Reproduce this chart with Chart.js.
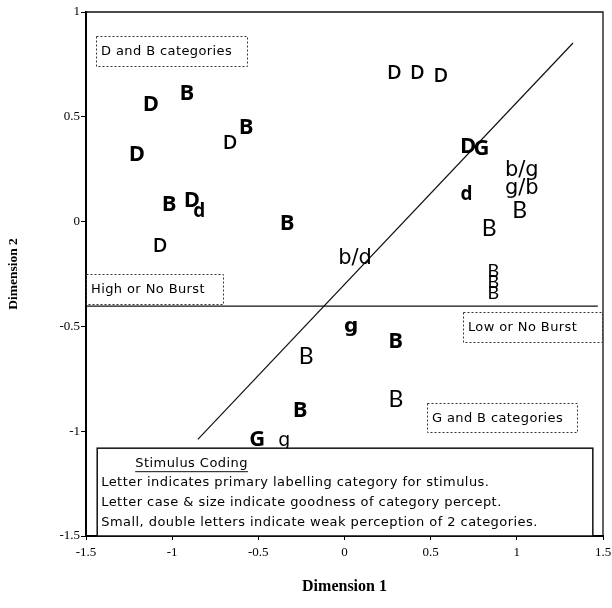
<!DOCTYPE html>
<html>
<head>
<meta charset="utf-8">
<script src="https://cdn.jsdelivr.net/npm/chart.js@4/dist/chart.umd.min.js"></script>
<style>
  html, body { margin: 0; padding: 0; background: #fff; }
  #wrap { width: 612px; height: 608px; }
</style>
</head>
<body>
<div id="wrap"><canvas id="c" width="612" height="608"></canvas></div>
<script>
// Stimulus positions in the two-dimensional space, with the label plotted for each stimulus
const labels = ['D','B','D','D','B','B','D','d','B','D',
                'D','D','D','D','G','b/g','d','g/b','B','B',
                'b/d','B','B','B','g','B','B','B','B','G','g'];
const dim1 = [-1.123,-0.915,-1.205,-0.664,-0.571,-1.017,-0.886,-0.843,-0.333,-1.070,
               0.289, 0.422, 0.559, 0.718, 0.795, 1.029, 0.708, 1.029, 1.017, 0.839,
               0.061, 0.863, 0.863, 0.863, 0.038, 0.297,-0.223,-0.258, 0.299,-0.506,-0.349];
const dim2 = [ 0.562, 0.615, 0.323, 0.382, 0.454, 0.085, 0.104, 0.056,-0.006,-0.111,
               0.712, 0.715, 0.701, 0.363, 0.352, 0.247, 0.138, 0.161, 0.056,-0.029,
              -0.167,-0.235,-0.287,-0.337,-0.509,-0.565,-0.641,-0.896,-0.843,-1.034,-1.055];
// Typeface key for each label (goodness of the category percept)
const letterStyle = ['H','H','H','M','H','H','H','d','H','M',
                     'M','M','M','H','H','R','d','R','L','L',
                     'R','S','S','S','g','H','L','H','L','H','q'];

// Burst boundary and category boundary lines
const burstX = [-1.5, 1.47];
const burstY = [-0.403, -0.403];
const boundaryX = [-0.851, 1.326];
const boundaryY = [-1.039, 0.852];

const xTicks = [-1.5, -1, -0.5, 0, 0.5, 1, 1.5];
const yTicks = [-1.5, -1, -0.5, 0, 0.5, 1];

const fonts = {
  H: '700 22px "Open Sans"',
  M: '600 20px "Open Sans"',
  R: '400 21px "DejaVu Sans"',
  L: '400 23px Lato',
  S: '400 18px Lato',
  d: '700 19px "Open Sans"',
  g: '700 20px "DejaVu Sans"',
  q: '400 19px "DejaVu Sans"'
};

// Region captions (dotted boxes) and the coding key, placed in axis units
const regionBoxes = [
  { x0: -1.442, x1: -0.563, y0: 0.887, y1: 0.744, text: 'D and B categories' },
  { x0: -1.5,   x1: -0.704, y0: -0.250, y1: -0.393, text: 'High or No Burst' },
  { x0: 0.687,  x1: 1.493,  y0: -0.431, y1: -0.575, text: 'Low or No Burst' },
  { x0: 0.478,  x1: 1.348,  y0: -0.866, y1: -1.005, text: 'G and B categories' }
];
const keyBox = { x0: -1.435, x1: 1.441, y0: -1.081, y1: -1.5 };
const keyTitle = 'Stimulus Coding';
const keyLines = [
  'Letter indicates primary labelling category for stimulus.',
  'Letter case & size indicate goodness of category percept.',
  'Small, double letters indicate weak perception of 2 categories.'
];

const toPts = (xs, ys) => xs.map((x, i) => ({ x, y: ys[i] }));

const decorations = {
  id: 'decorations',
  afterDatasetsDraw(chart) {
    const ctx = chart.ctx;
    const xs = chart.scales.x, ys = chart.scales.y;
    const area = chart.chartArea;
    ctx.save();

    // top and right frame
    ctx.strokeStyle = '#111';
    ctx.lineWidth = 1.3;
    ctx.beginPath();
    ctx.moveTo(area.left, area.top);
    ctx.lineTo(area.right, area.top);
    ctx.lineTo(area.right, area.bottom);
    ctx.stroke();

    // stimulus letters, each centred on its own ink box
    const meta = chart.getDatasetMeta(2);
    ctx.fillStyle = '#000';
    ctx.textAlign = 'center';
    ctx.textBaseline = 'alphabetic';
    meta.data.forEach((pt, i) => {
      ctx.font = fonts[letterStyle[i]];
      const m = ctx.measureText(labels[i]);
      const asc = m.actualBoundingBoxAscent, desc = m.actualBoundingBoxDescent;
      ctx.fillText(labels[i], pt.x, pt.y + (asc - desc) / 2);
    });

    // dotted caption boxes
    ctx.textAlign = 'left';
    ctx.textBaseline = 'middle';
    regionBoxes.forEach(b => {
      const l = xs.getPixelForValue(b.x0), r = xs.getPixelForValue(b.x1);
      const t = ys.getPixelForValue(b.y0), btm = ys.getPixelForValue(b.y1);
      ctx.setLineDash([2, 2]);
      ctx.strokeStyle = '#333';
      ctx.lineWidth = 1;
      ctx.strokeRect(Math.round(l) + 0.5, Math.round(t) + 0.5, Math.round(r - l), Math.round(btm - t));
      ctx.setLineDash([]);
      ctx.font = '400 13px "DejaVu Sans"';
      ctx.letterSpacing = '0.4px';
      ctx.fillStyle = '#000';
      ctx.fillText(b.text, l + 5, (t + btm) / 2 + 1);
    });

    // coding key
    const kl = xs.getPixelForValue(keyBox.x0), kr = xs.getPixelForValue(keyBox.x1);
    const kt = ys.getPixelForValue(keyBox.y0), kb = ys.getPixelForValue(keyBox.y1);
    ctx.fillStyle = '#fff';
    ctx.fillRect(kl, kt, kr - kl, kb - kt);
    ctx.strokeStyle = '#111';
    ctx.lineWidth = 1.5;
    ctx.strokeRect(kl, kt, kr - kl, kb - kt);
    ctx.fillStyle = '#000';
    ctx.font = '400 13px "DejaVu Sans"';
    ctx.letterSpacing = '0.45px';
    ctx.textBaseline = 'middle';
    const tx = kl + 38, ty = kt + 15;
    ctx.fillText(keyTitle, tx, ty);
    const tw = ctx.measureText(keyTitle).width;
    ctx.lineWidth = 1;
    ctx.beginPath();
    ctx.moveTo(tx, ty + 8.5);
    ctx.lineTo(tx + tw, ty + 8.5);
    ctx.stroke();
    keyLines.forEach((s, i) => ctx.fillText(s, kl + 4, kt + 34 + i * 20));

    ctx.restore();
  }
};

const serif = { family: '"Liberation Serif", "Times New Roman", serif' };

new Chart(document.getElementById('c'), {
  type: 'scatter',
  data: {
    datasets: [
      { type: 'line', data: toPts(burstX, burstY), borderColor: '#111', borderWidth: 1.3,
        pointRadius: 0, fill: false, tension: 0 },
      { type: 'line', data: toPts(boundaryX, boundaryY), borderColor: '#111', borderWidth: 1.2,
        pointRadius: 0, fill: false, tension: 0 },
      { data: toPts(dim1, dim2), pointRadius: 0, pointHoverRadius: 0 }
    ]
  },
  options: {
    responsive: false,
    devicePixelRatio: 1,
    animation: false,
    events: [],
    layout: { padding: { top: 12, right: 9, left: 0, bottom: 0 } },
    plugins: { legend: { display: false }, tooltip: { enabled: false } },
    scales: {
      x: {
        type: 'linear', min: -1.5, max: 1.5,
        afterBuildTicks: s => { s.ticks = xTicks.map(v => ({ value: v })); },
        afterFit: s => { s.height = 72; s.paddingLeft = 0; s.paddingRight = 0; },
        ticks: { color: '#000', font: { ...serif, size: 13 }, padding: 5, maxRotation: 0,
                 callback: v => String(v) },
        grid: { display: true, drawOnChartArea: false, drawTicks: true, tickLength: 4, color: '#000' },
        border: { display: true, color: '#000', width: 2 },
        title: { display: true, text: 'Dimension 1', color: '#000',
                 font: { ...serif, size: 16, weight: 'bold' }, padding: { top: 0, bottom: 12 } }
      },
      y: {
        type: 'linear', min: -1.5, max: 1,
        afterBuildTicks: s => { s.ticks = yTicks.map(v => ({ value: v })); },
        afterFit: s => { s.width = 86; s.paddingTop = 0; s.paddingBottom = 0; },
        ticks: { color: '#000', font: { ...serif, size: 13 }, padding: 1,
                 callback: v => String(v) },
        grid: { display: true, drawOnChartArea: false, drawTicks: true, tickLength: 5, color: '#000' },
        border: { display: true, color: '#000', width: 2 },
        title: { display: true, text: 'Dimension 2', color: '#000',
                 font: { ...serif, size: 13.5, weight: 'bold' }, padding: { top: 5, bottom: 0 } }
      }
    }
  },
  plugins: [decorations]
});
</script>
</body>
</html>
